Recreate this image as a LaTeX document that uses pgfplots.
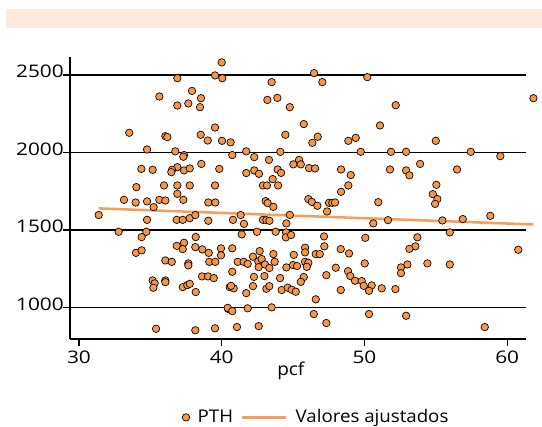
\documentclass[border=0pt]{standalone}
\usepackage{pgfplots}
\pgfplotsset{compat=1.18}
\usepackage{fontspec}
\setmainfont{Open Sans}[FakeStretch=1.07]
\newfontfamily\tickfont{Open Sans}[FakeStretch=1.2]
\definecolor{mk}{RGB}{246,150,70}
\definecolor{fitc}{RGB}{244,160,90}
\definecolor{band}{RGB}{252,235,221}
\pgfplotsset{
  mkleg/.style={legend image code/.code={\draw[##1] plot coordinates {(2pt,0pt)};}},
  lnleg/.style={legend image code/.code={\draw[##1] (0pt,0pt) -- (33pt,0pt);}},
}
\pgfplotstableread{
x y
40.00 2581
39.53 2497
40.04 2479
36.89 2479
37.92 2397
35.63 2361
38.55 2350
37.66 2316
36.89 2303
38.48 2292
39.53 2161
33.52 2127
36.05 2105
36.19 2099
38.53 2114
39.02 2077
40.02 2075
40.62 2065
34.77 2019
36.75 2007
37.36 1983
37.31 1972
38.57 1926
34.37 1894
35.16 1888
36.89 1905
36.52 1888
36.47 1873
37.36 1884
37.76 1897
39.83 1894
34.02 1776
35.96 1787
36.89 1787
37.76 1787
39.53 1787
36.89 1733
33.15 1694
33.97 1677
34.77 1684
35.63 1694
36.05 1690
37.31 1694
35.23 1647
39.06 1677
39.55 1677
31.38 1596
34.77 1565
36.85 1565
37.27 1565
37.76 1576
38.15 1596
39.06 1559
32.78 1488
34.72 1488
34.39 1454
38.18 1454
36.85 1397
37.36 1417
37.27 1376
38.15 1389
38.64 1374
39.09 1352
39.95 1381
39.95 1336
33.99 1352
34.39 1368
36.05 1303
36.50 1294
37.66 1284
37.66 1271
39.13 1294
39.55 1294
35.16 1174
35.30 1155
35.21 1127
36.05 1174
36.05 1163
37.27 1131
37.59 1144
37.76 1152
38.18 1099
38.62 1200
39.04 1200
39.44 1189
40.44 991
35.40 862
38.15 852
39.53 865
46.47 2512
50.20 2486
43.50 2454
47.05 2454
43.20 2339
43.90 2352
44.77 2292
45.75 2183
51.09 2174
44.46 2114
46.73 2101
46.35 2062
48.87 2075
49.39 2094
40.74 1983
41.72 2007
42.28 1970
44.11 2004
49.74 2004
43.31 1952
45.42 1952
45.02 1923
45.54 1923
46.12 1899
46.54 1897
48.36 1890
49.04 1854
41.72 1867
42.28 1884
42.61 1862
43.92 1890
44.16 1868
43.57 1828
42.89 1787
43.17 1787
43.95 1787
48.87 1787
48.36 1746
61.84 2350
52.19 2305
55.00 2075
51.86 2004
52.92 2004
57.45 2004
59.52 1976
53.90 1926
51.79 1890
52.92 1884
53.15 1852
56.49 1890
55.04 1791
54.79 1731
55.11 1699
43.08 1686
43.22 1673
43.62 1649
46.07 1699
46.31 1681
46.70 1656
47.52 1675
47.75 1675
47.94 1677
47.38 1619
50.97 1679
40.79 1565
41.33 1596
41.56 1539
42.89 1565
43.13 1563
43.34 1559
44.77 1597
44.53 1542
50.62 1542
41.40 1471
42.47 1488
43.78 1488
44.51 1484
44.49 1452
44.86 1467
47.17 1458
50.06 1449
40.74 1381
42.66 1363
42.19 1327
43.62 1344
45.84 1385
45.84 1355
47.19 1394
46.59 1344
46.87 1344
48.34 1376
48.92 1348
45.05 1339
41.12 1294
41.54 1294
41.82 1281
42.56 1297
42.80 1312
42.59 1260
43.03 1277
43.34 1254
43.71 1294
44.53 1258
45.00 1273
45.28 1267
45.84 1294
46.07 1288
45.96 1262
47.99 1256
50.02 1284
40.74 1230
42.26 1197
42.99 1202
44.09 1189
45.75 1196
45.54 1165
47.33 1208
48.85 1234
49.01 1202
49.34 1172
49.81 1170
49.95 1139
50.51 1142
50.32 1107
40.56 1131
40.84 1123
40.65 1139
41.72 1092
42.19 1137
43.13 1120
43.34 1137
44.20 1112
44.62 1127
44.90 1114
45.19 1101
48.34 1112
51.21 1123
46.59 1052
40.42 997
40.74 976
41.82 994
43.50 1000
46.45 957
50.32 957
41.07 873
42.59 879
47.33 899
54.95 1668
51.65 1563
55.46 1561
56.89 1570
58.82 1591
55.98 1484
53.71 1452
53.57 1394
53.15 1378
60.78 1372
53.01 1277
52.56 1258
52.56 1221
54.41 1284
55.98 1277
52.17 1118
52.92 946
58.43 873
}\pthdata
\begin{document}
\fontsize{13}{16}\selectfont
\begin{tikzpicture}
\path[use as bounding box] (0pt,0pt) rectangle (406.5pt,320.25pt);
\fill[band] (4.5pt,299.25pt) rectangle (406.5pt,313.5pt);
\begin{axis}[
  at={(52.5pt,66pt)}, anchor=south west,
  scale only axis, width=342pt, height=211.5pt,
  xmin=29.37, xmax=61.32, ymin=796, ymax=2616,
  axis x line*=bottom, axis y line*=left,
  axis line style={line width=1.2pt,-},
  xtick={30,40,50,60}, ytick={1000,1500,2000,2500},
  ymajorgrids, grid style={black, line width=1.2pt},
  tick style={black, line width=1pt},
  major tick length=5pt, tick align=outside,
  /pgf/number format/1000 sep={},
  /pgf/number format/assume math mode=true,
  tick label style={font=\tickfont\fontsize{13}{16}\selectfont},
  yticklabel style={anchor=base east, inner sep=0pt, xshift=0.5pt, yshift=-2.25pt},
  xticklabel style={anchor=base, inner sep=0pt, yshift=-13.5pt},
  xlabel={pcf},
  x label style={at={(axis description cs:0.4842,0)}, anchor=base, yshift=-27.5pt, inner sep=0pt,
    font=\fontsize{13.3}{16}\selectfont},
  clip=false,
  legend columns=2,
  legend style={at={(axis description cs:0.2456,-0.278)}, anchor=west, draw=none, fill=none,
    inner sep=0pt, column sep=4pt, font=\fontsize{13.1}{16}\selectfont,
    nodes={inner sep=2pt}},
]
\addplot[only marks, mark=*, mark size=2.8pt, mark options={fill=mk, draw=black, line width=0.5pt}, mkleg]
  table[x=x,y=y] {\pthdata};
\addlegendentry{PTH}
\addplot[fitc, line width=1.9pt, lnleg]
  coordinates {(31.38,1639) (61.84,1535)};
\addlegendentry{Valores ajustados}
\end{axis}
\end{tikzpicture}
\end{document}
